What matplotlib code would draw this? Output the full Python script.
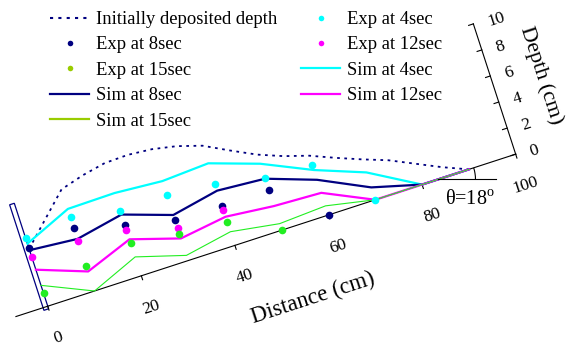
import numpy as np
import matplotlib.pyplot as plt
from matplotlib.transforms import Affine2D
from matplotlib.lines import Line2D
from matplotlib.patches import Rectangle, Arc

plt.rcParams['font.family'] = ['Liberation Serif', 'DejaVu Serif']
plt.rcParams['mathtext.fontset'] = 'custom'
plt.rcParams['mathtext.rm'] = 'Liberation Serif'

# ---- data: distance along the slope (cm) and deposit depth (cm) ----
dist_init = [0, 10, 15, 20, 25, 30, 35, 40, 45, 50, 55, 60, 65, 70, 75, 80, 85, 90]
depth_init = [4.4, 7.8, 8.3, 8.65, 8.7, 8.55, 8.2, 7.65, 6.7, 5.8, 5.1, 4.55,
              3.8, 3.1, 2.45, 1.6, 0.75, 0.0]

dist_exp = [0, 10, 20, 30, 40, 50, 60, 70]
exp_4 = [5.2, 5.65, 4.95, 5.0, 4.7, 4.0, 3.8, 0.0]
exp_8 = [4.5, 4.8, 3.9, 3.1, 3.05, 3.1, 0.0]
exp_12 = [3.8, 3.8, 3.55, 2.5, 2.75]
exp_15 = [1.0, 1.9, 2.5, 2.05, 1.8, 0.0]

dist_sim = [0, 10, 20, 30, 40, 50, 60, 70, 80, 90]
sim_4 = [4.8, 6.3, 6.35, 6.1, 6.3, 5.1, 3.45, 2.1, 0.0, 0.0]
sim_8 = [4.3, 4.0, 4.7, 3.5, 4.2, 3.95, 2.7, 0.95, 0.0, 0.0]
sim_12 = [2.8, 1.5, 2.8, 1.7, 2.2, 1.85, 1.7, 0.0, 0.0, 0.0]
sim_15 = [1.6, 0.0, 1.45, 0.4, 1.05, 0.5, 0.7, 0.0, 0.0, 0.0]

dist_ticks = [0, 20, 40, 60, 80, 100]
depth_ticks = [0, 2, 4, 6, 8, 10]

C_NAVY = '#000080'
C_CYAN = '#00FFFF'
C_MAG = '#FF00FF'
C_GREEN = '#22EE22'
C_GREEN_LEG = '#99CC00'

# ---- figure in pixel units, slope frame tilted by 18 deg ----
fig = plt.figure(figsize=(5.66, 3.47), dpi=100)
ax = fig.add_axes([0, 0, 1, 1])
ax.set_xlim(0, 566)
ax.set_ylim(347, 0)
ax.axis('off')

theta = np.deg2rad(18)
sx, sy = 4.92, 13.7          # px per cm along slope / along depth
x0, y0 = 47.75, 306.2        # where distance 0 sits
slope = Affine2D(np.array([[sx * np.cos(theta), -sy * np.sin(theta), x0],
                           [-sx * np.sin(theta), -sy * np.cos(theta), y0],
                           [0, 0, 1]]))
tr = slope + ax.transData

# axes drawn in the tilted frame
ax.plot([-6.8, 100], [0, 0], color='k', lw=0.8, transform=tr)
ax.plot([100, 100], [0, 10], color='k', lw=0.8, transform=tr)
for d in dist_ticks:
    ax.plot([d, d], [0, -0.3], color='k', lw=0.8, transform=tr)
    ax.text(d, -2.4, str(d), transform=tr, rotation=18, rotation_mode='anchor',
            ha='center', va='center', fontsize=12.5)
for h in depth_ticks:
    ax.plot([100, 99], [h, h], color='k', lw=0.8, transform=tr)
    ax.text(102.9, h - 0.2, str(h), transform=tr, rotation=18, rotation_mode='anchor',
            ha='left', va='center', fontsize=12.5)
ax.text(51.8, -5.4, 'Distance (cm)', transform=tr, rotation=18, rotation_mode='anchor',
        ha='center', va='center', fontsize=16.5)
ax.text(109.8, 4.9, 'Depth (cm)', transform=tr, rotation=-72, rotation_mode='anchor',
        ha='center', va='center', fontsize=16)

# retaining wall at the foot
ax.add_patch(Rectangle((-1, -0.2), 1, 8.1, transform=tr, fill=False,
                       ec=C_NAVY, lw=0.9))

# initial deposit and simulated profiles
ax.plot(dist_init, depth_init, color=C_NAVY, lw=1.3, ls=(0, (1.5, 2.5)), transform=tr)
ax.plot(dist_sim, sim_4, color=C_CYAN, lw=1.6, transform=tr)
ax.plot(dist_sim, sim_8, color=C_NAVY, lw=1.6, transform=tr)
ax.plot(dist_sim, sim_12, color=C_MAG, lw=1.6, transform=tr)
ax.plot(dist_sim, sim_15, color=C_GREEN, lw=0.8, transform=tr)

# experimental points
for vals, c in [(exp_4, C_CYAN), (exp_8, C_NAVY), (exp_12, C_MAG), (exp_15, C_GREEN)]:
    ax.plot(dist_exp[:len(vals)], vals, 'o', color=c, ms=5.5, mew=0,
            transform=tr, zorder=4)

# slope angle mark
ax_pt = slope.transform((83.5, 0))
ax.plot([ax_pt[0], ax_pt[0] + 58], [ax_pt[1], ax_pt[1]], color='k', lw=0.8)
ax.add_patch(Arc(ax_pt, 74, 74, theta1=-18, theta2=0, color='k', lw=0.8))
ax.text(ax_pt[0] + 31, ax_pt[1] + 20, r'θ=18$^{\rm o}$', ha='center', va='center',
        fontsize=14.5)

# legend (two columns)
handles = [
    Line2D([], [], color=C_NAVY, lw=1.5, ls=(0, (1.5, 2.5))),
    Line2D([], [], color=C_NAVY, marker='o', ls='none', ms=4, mew=0),
    Line2D([], [], color=C_GREEN_LEG, marker='o', ls='none', ms=4, mew=0),
    Line2D([], [], color=C_NAVY, lw=1.6),
    Line2D([], [], color=C_GREEN_LEG, lw=1.6),
    Line2D([], [], color=C_CYAN, marker='o', ls='none', ms=4, mew=0),
    Line2D([], [], color=C_MAG, marker='o', ls='none', ms=4, mew=0),
    Line2D([], [], color=C_CYAN, lw=1.6),
    Line2D([], [], color=C_MAG, lw=1.6),
]
labels = ['Initially deposited depth', 'Exp at 8sec', 'Exp at 15sec', 'Sim at 8sec',
          'Sim at 15sec', 'Exp at 4sec', 'Exp at 12sec', 'Sim at 4sec', 'Sim at 12sec']
fig.legend(handles, labels, ncol=2, loc='upper left',
           bbox_to_anchor=(50 / 566, 1 - 11 / 347), frameon=False, fontsize=13.4,
           handlelength=2.1, handletextpad=0.35, columnspacing=1.3,
           labelspacing=0.45, borderpad=0, borderaxespad=0)

fig.savefig('out.png', dpi=100)
